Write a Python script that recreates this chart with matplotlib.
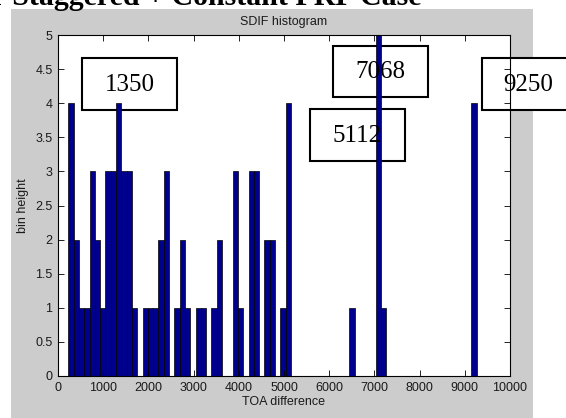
import matplotlib
matplotlib.use('Agg')
import matplotlib.pyplot as plt
from matplotlib.patches import Rectangle
from matplotlib.ticker import FormatStrFormatter

# histogram data
bin_start = 228      # left edge of first bin (TOA units)
bin_width = 117.3    # bin width
counts = [4, 2, 1, 1, 3, 2, 1, 3, 3, 4, 3, 3, 1, 0, 1, 1, 1, 2, 3, 0,
          1, 2, 1, 0, 1, 1, 0, 1, 2, 0, 0, 3, 1, 0, 3, 3, 0, 2, 2, 0,
          1, 4, 0, 0, 0, 0, 0, 0, 0, 0, 0, 0, 0, 1, 0, 0, 0, 0, 5, 1,
          0, 0, 0, 0, 0, 0, 0, 0, 0, 0, 0, 0, 0, 0, 0, 0, 4]
left_edges = [bin_start + i*bin_width for i in range(len(counts))]

# annotation boxes pasted over the chart (label, box in pixels x0, y0, x1, y1 from top left)
box_labels = ['1350', '7068', '5112', '9250']
box_pixels = [(82, 58, 177, 110), (333, 46, 428, 97), (310, 109, 405, 161), (482, 58, 575, 110)]

W, H = 566, 418
fig = plt.figure(figsize=(W/100, H/100), dpi=100, facecolor='white')

def fx(px):
    return px/W

def fy(py):
    return 1 - py/H

# matlab grey figure area
fig.patches.append(Rectangle((fx(11), 0), fx(533)-fx(11), fy(9), transform=fig.transFigure,
                             facecolor='#cccccc', edgecolor='none', zorder=-10))

# cropped document heading
fig.text(fx(-8), fy(5), 'r Staggered + Constant PRF Case', family='Liberation Serif',
         weight='bold', fontsize=21.5, va='baseline', ha='left')

ax = fig.add_axes([fx(58), fy(376), fx(510)-fx(58), fy(35)-fy(376)])
ax.bar(left_edges, counts, width=bin_width, align='edge', color='#00008f',
       edgecolor='black', linewidth=0.5, zorder=1)
ax.set_xlim(0, 10000)
ax.set_ylim(0, 5)
ax.set_xticks(range(0, 10001, 1000))
ax.set_yticks([i*0.5 for i in range(11)])
ax.yaxis.set_major_formatter(FormatStrFormatter('%g'))

txt = dict(family='Liberation Sans', fontsize=9, color='#1a1a1a')
ax.tick_params(direction='in', top=True, right=True, length=4.5, width=0.6,
               labelsize=9, labelcolor='#1a1a1a', pad=4)
for lab in ax.get_xticklabels() + ax.get_yticklabels():
    lab.set_family('Liberation Sans')
for s in ax.spines.values():
    s.set_linewidth(0.8)

ax.set_title('SDIF histogram', pad=7, **txt)
ax.set_xlabel('TOA difference', **txt)
ax.set_ylabel('bin height', **txt)
ax.xaxis.set_label_coords(0.5, -0.06)
ax.yaxis.set_label_coords(-0.064, 0.5)

# white boxes with the marked values, below the bars
for lab, (x0, y0, x1, y1) in zip(box_labels, box_pixels):
    r = Rectangle((fx(x0), fy(y1)), fx(x1)-fx(x0), fy(y0)-fy(y1), transform=fig.transFigure,
                  facecolor='white', edgecolor='black', linewidth=1.5, zorder=0.5, clip_on=False)
    ax.add_artist(r)
    fig.text(fx((x0+x1)/2), fy((y0+y1)/2 + 1), lab, family='Liberation Serif', fontsize=18,
             ha='center', va='center', zorder=5)

fig.savefig('out.png', dpi=100)
